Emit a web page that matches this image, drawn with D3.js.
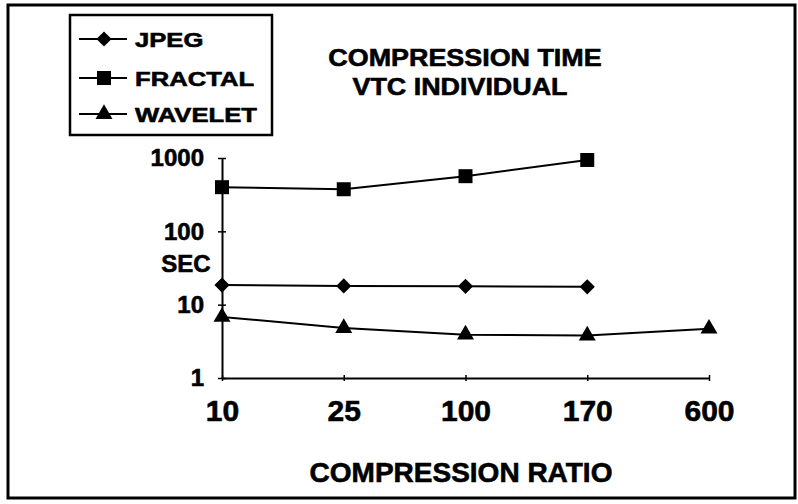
<!DOCTYPE html>
<html lang="en">

<head>
  <meta charset="UTF-8">
  <title>Compression time</title>
  <script src="https://d3js.org/d3.v7.min.js"></script>
  <style>
    body {
      margin: 0;
      background: #fff;
    }

    text {
      font-family: "Liberation Sans", Arial, sans-serif;
      font-weight: bold;
      fill: #000;
      stroke: #000;
      stroke-width: 0.6px;
    }
  </style>
</head>

<body>
  <div class="chartContainer"></div>

  <script>
    // data
    const ratios = ['10', '25', '100', '170', '600']
    const jpeg = [18.5, 18, 17.8, 17.5]
    const fractal = [400, 375, 565, 940]
    const wavelet = [6.8, 4.8, 3.9, 3.8, 4.7]
    const yTicks = [1, 10, 100, 1000]
    const seriesNames = ['JPEG', 'FRACTAL', 'WAVELET']

    const W = 798, H = 504

    const svg = d3.select('.chartContainer')
      .append('svg')
      .attr('width', W)
      .attr('height', H)

    // outer frame
    svg.append('rect')
      .attr('x', 8).attr('y', 5)
      .attr('width', 787).attr('height', 493)
      .attr('fill', 'none')
      .attr('stroke', '#000')
      .attr('stroke-width', 3)

    const x = d3.scalePoint().domain(ratios).range([222, 709])
    const y = d3.scaleLog().domain([1, 1000]).range([378, 158])

    // stretch a text to a wider width (the scanned font is wide)
    function stretch(sel, f) {
      sel.each(function () {
        const w = this.getComputedTextLength()
        d3.select(this).attr('textLength', w * f).attr('lengthAdjust', 'spacingAndGlyphs')
      })
    }

    // y axis
    const yAxis = svg.append('g')
      .attr('transform', `translate(${x('10')},0)`)
      .call(d3.axisLeft(y).tickValues(yTicks).tickFormat(d3.format('d'))
        .tickSize(4).tickSizeOuter(0).tickPadding(14))
    yAxis.selectAll('.tick line').attr('x2', 4).attr('x1', -4).attr('stroke-width', 1.5)
    yAxis.select('.domain').attr('stroke-width', 2)
    yAxis.selectAll('text').style('font-size', '24px')

    // x axis
    const xAxis = svg.append('g')
      .attr('transform', `translate(0,${y(1)})`)
      .call(d3.axisBottom(x).tickSize(4).tickSizeOuter(0).tickPadding(18))
    xAxis.selectAll('.tick line').attr('y1', -3).attr('y2', 3).attr('stroke-width', 1.5)
    xAxis.select('.domain').attr('stroke-width', 2)
    xAxis.selectAll('text').style('font-size', '30px')

    // series
    const series = [
      { name: seriesNames[0], values: jpeg, sym: 'diamond' },
      { name: seriesNames[1], values: fractal, sym: 'square' },
      { name: seriesNames[2], values: wavelet, sym: 'triangle' }
    ]

    function marker(g, sym) {
      if (sym === 'diamond') {
        g.append('path').attr('d', d3.symbol(d3.symbolSquare, 115)()).attr('transform', 'rotate(45)')
      } else if (sym === 'square') {
        g.append('path').attr('d', d3.symbol(d3.symbolSquare, 196)())
      } else {
        g.append('path').attr('d', d3.symbol(d3.symbolTriangle, 125)())
      }
    }

    const line = d3.line()
      .x((d, i) => x(ratios[i]))
      .y(d => y(d))

    series.forEach(s => {
      svg.append('path')
        .datum(s.values)
        .attr('d', line)
        .attr('fill', 'none')
        .attr('stroke', '#000')
        .attr('stroke-width', 2)
      s.values.forEach((v, i) => {
        const g = svg.append('g').attr('transform', `translate(${x(ratios[i])},${y(v)})`)
        marker(g, s.sym)
      })
    })

    // legend
    const legend = svg.append('g')
    legend.append('rect')
      .attr('x', 70).attr('y', 15)
      .attr('width', 202).attr('height', 120)
      .attr('fill', '#fff')
      .attr('stroke', '#000')
      .attr('stroke-width', 2.5)
    const rowY = [39, 78, 114]
    series.forEach((s, i) => {
      legend.append('line')
        .attr('x1', 79).attr('x2', 127)
        .attr('y1', rowY[i]).attr('y2', rowY[i])
        .attr('stroke', '#000').attr('stroke-width', 2)
      marker(legend.append('g').attr('transform', `translate(104,${rowY[i]})`), s.sym)
      legend.append('text')
        .attr('x', 135).attr('y', rowY[i] + 8)
        .style('font-size', '21px')
        .text(s.name)
        .call(stretch, 1.22)
    })

    // titles
    svg.append('text')
      .attr('x', 465).attr('y', 66)
      .attr('text-anchor', 'middle')
      .style('font-size', '24px')
      .text('COMPRESSION TIME')
      .call(stretch, 1.12)
    svg.append('text')
      .attr('x', 460).attr('y', 95)
      .attr('text-anchor', 'middle')
      .style('font-size', '24px')
      .text('VTC INDIVIDUAL')
      .call(stretch, 1.12)

    svg.append('text')
      .attr('x', 186).attr('y', 272)
      .attr('text-anchor', 'middle')
      .style('font-size', '24px')
      .text('SEC')

    svg.append('text')
      .attr('x', 461).attr('y', 482)
      .attr('text-anchor', 'middle')
      .style('font-size', '28px')
      .text('COMPRESSION RATIO')
  </script>
</body>

</html>
